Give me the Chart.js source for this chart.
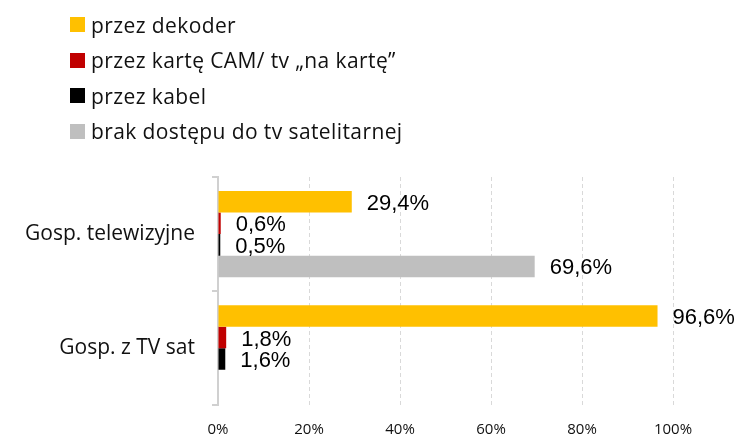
<!DOCTYPE html>
<html>
<head>
<meta charset="utf-8">
<script src="https://cdn.jsdelivr.net/npm/chart.js@4"></script>
<style>
  html, body { margin: 0; padding: 0; background: #fff; }
  #wrap { position: relative; width: 737px; height: 435px; }
  #legend { position: absolute; left: 70px; top: 7px; font-family: "Open Sans", sans-serif; font-size: 21px; letter-spacing: 0.4px; color: #111; }
  #legend div { height: 35.5px; display: flex; align-items: center; white-space: nowrap; }
  #legend span.box { display: inline-block; width: 15px; height: 15px; margin-right: 6px; }
</style>
</head>
<body>
<div id="wrap">
  <canvas id="c" width="737" height="435"></canvas>
  <div id="legend"></div>
</div>
<script>
// dane (%)
const categories = ["Gosp. telewizyjne", "Gosp. z TV sat"];
const seriesNames = ["przez dekoder", "przez kartę CAM/ tv „na kartę”", "przez kabel", "brak dostępu do tv satelitarnej"];
const dekoder = [29.4, 96.6];
const kartaCam = [0.6, 1.8];
const kabel = [0.5, 1.6];
const brakDostepu = [69.6, null];
const colors = ["#FFC000", "#C00000", "#000000", "#BFBFBF"];
const xTicks = [0, 20, 40, 60, 80, 100];

const seriesValues = [dekoder, kartaCam, kabel, brakDostepu];

// etykiety wartości obok słupków
const valueLabels = {
  id: "valueLabels",
  afterDatasetsDraw(chart) {
    const ctx = chart.ctx;
    ctx.save();
    ctx.font = '22px "Liberation Sans", Arial, sans-serif';
    ctx.fillStyle = "#000";
    ctx.textBaseline = "middle";
    chart.data.datasets.forEach((ds, i) => {
      chart.getDatasetMeta(i).data.forEach((bar, j) => {
        const v = ds.data[j];
        if (v == null) return;
        ctx.fillText(v.toFixed(1).replace(".", ",") + "%", bar.x + 15, bar.y + 2);
      });
    });
    ctx.restore();
  }
};

const chart = new Chart(document.getElementById("c"), {
  type: "bar",
  data: {
    labels: categories,
    datasets: seriesNames.map((name, i) => ({
      label: name,
      data: seriesValues[i],
      backgroundColor: colors[i],
      categoryPercentage: 0.755,
      barPercentage: 1
    }))
  },
  options: {
    indexAxis: "y",
    responsive: false,
    animation: false,
    layout: { padding: { top: 177, right: 64, left: 0, bottom: 0 } },
    plugins: {
      legend: { display: false },
      tooltip: { enabled: false }
    },
    scales: {
      x: {
        min: 0,
        max: 100,
        afterBuildTicks: (scale) => { scale.ticks = xTicks.map(v => ({ value: v })); },
        afterFit: (scale) => { scale.height = 29; },
        grid: { color: "#d9d9d9", drawTicks: false },
        border: { display: false, dash: [4, 3] },
        ticks: {
          padding: 15,
          color: "#111",
          font: { family: "Open Sans", size: 15 },
          callback: (v) => v + "%"
        }
      },
      y: {
        afterFit: (scale) => { scale.width = 218; },
        grid: { offset: true, drawOnChartArea: false, tickLength: 6, color: "#d0d0d0", lineWidth: 2 },
        border: { color: "#d0d0d0", width: 2 },
        ticks: {
          padding: 17,
          color: "#111",
          font: { family: "Open Sans", size: 21 }
        }
      }
    }
  },
  plugins: [valueLabels]
});

// legenda pionowa
const legend = document.getElementById("legend");
chart.data.datasets.forEach((ds) => {
  const row = document.createElement("div");
  const box = document.createElement("span");
  box.className = "box";
  box.style.background = ds.backgroundColor;
  row.appendChild(box);
  row.appendChild(document.createTextNode(ds.label));
  legend.appendChild(row);
});
</script>
</body>
</html>
